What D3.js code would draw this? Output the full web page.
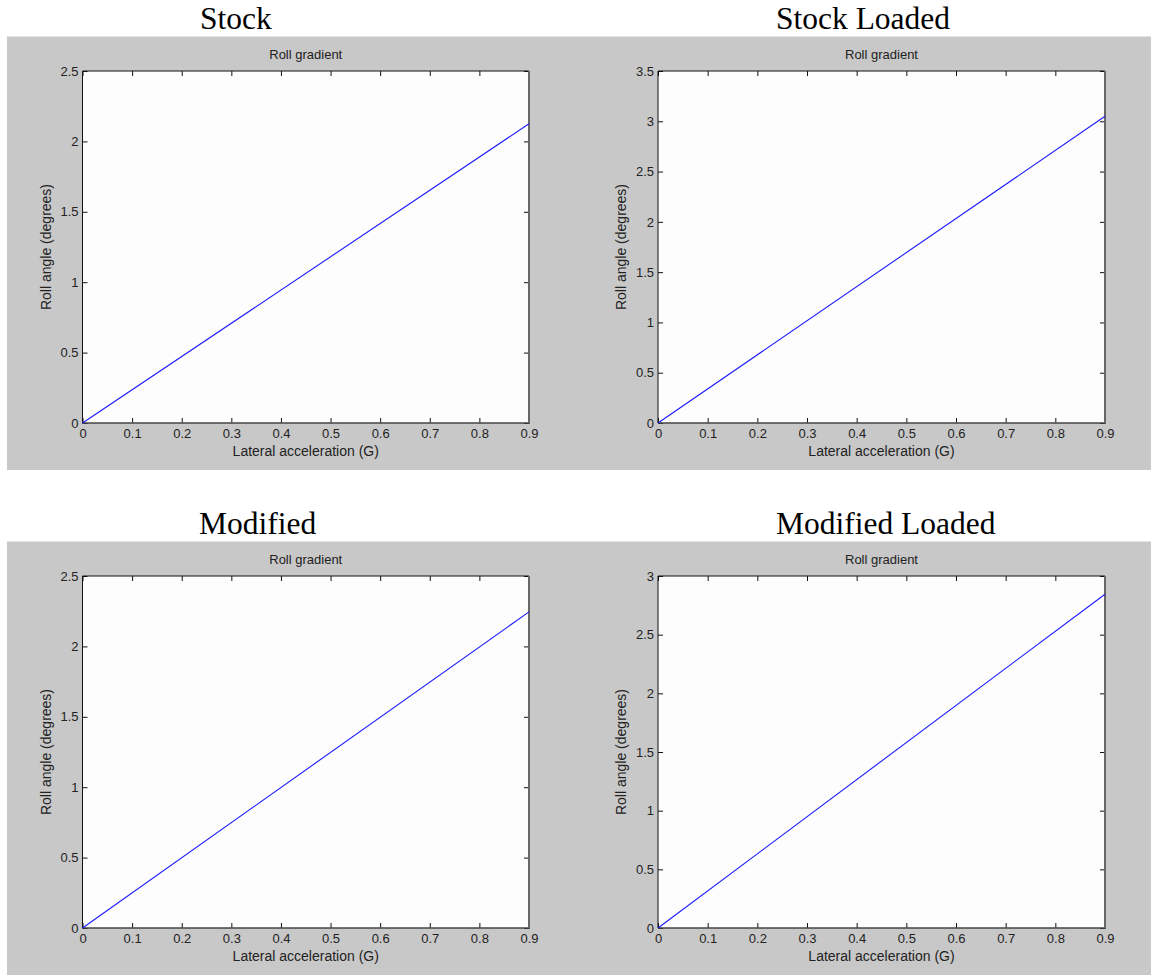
<!DOCTYPE html>
<html>
<head>
<meta charset="utf-8">
<script src="https://cdn.jsdelivr.net/npm/d3@7"></script>
<style>
  html, body { margin: 0; padding: 0; background: #ffffff; }
  svg { display: block; }
</style>
</head>
<body>
<svg id="chart" width="1151" height="975"></svg>
<script>
// Panel captions
const panelTitles = ["Stock", "Stock Loaded", "Modified", "Modified Loaded"];
// Lateral acceleration samples (G)
const lateralG = [0, 0.9];
// Roll angle (degrees) for each configuration
const rollStock = [0, 2.125];
const rollStockLoaded = [0, 3.05];
const rollModified = [0, 2.245];
const rollModifiedLoaded = [0, 2.845];
// Y axis upper limits per panel
const yMax = [2.5, 3.5, 2.5, 3];
const xTicks = [0, 0.1, 0.2, 0.3, 0.4, 0.5, 0.6, 0.7, 0.8, 0.9];

const series = [rollStock, rollStockLoaded, rollModified, rollModifiedLoaded];

const svg = d3.select("#chart");
const figBg = "#c8c8c8";

// grey figure backgrounds (one per row)
[0, 1].forEach(r => {
  svg.append("rect")
    .attr("x", 7).attr("y", 36.5 + r * 505)
    .attr("width", 1151 - 7).attr("height", r === 0 ? 433.5 : 975 - 541.5)
    .attr("fill", figBg);
});

const layout = [
  { x0: 82.5, x1: 529, y0: 71, y1: 423, titleX: 200, titleY: 29 },
  { x0: 658, x1: 1105, y0: 71, y1: 423, titleX: 776, titleY: 29 },
  { x0: 82.5, x1: 529, y0: 576, y1: 928, titleX: 199, titleY: 534 },
  { x0: 658, x1: 1105, y0: 576, y1: 928, titleX: 776, titleY: 534 }
];

const sansFont = "'Liberation Sans', Arial, sans-serif";

layout.forEach((L, i) => {
  const g = svg.append("g");
  const x = d3.scaleLinear().domain([0, 0.9]).range([L.x0, L.x1]);
  const y = d3.scaleLinear().domain([0, yMax[i]]).range([L.y1, L.y0]);
  const yTicks = d3.range(0, yMax[i] + 1e-9, 0.5);

  // caption
  svg.append("text")
    .attr("x", L.titleX).attr("y", L.titleY)
    .attr("font-family", "'Liberation Serif', 'Times New Roman', serif")
    .attr("font-size", 31.5)
    .attr("fill", "#000")
    .text(panelTitles[i]);

  // plot area
  g.append("rect")
    .attr("x", L.x0).attr("y", L.y0)
    .attr("width", L.x1 - L.x0).attr("height", L.y1 - L.y0)
    .attr("fill", "#fdfdfd");

  // axes with inward ticks on all four sides
  const fmt = d => d3.format("~g")(d);
  const bottom = g.append("g").attr("transform", `translate(0,${L.y1})`)
    .call(d3.axisBottom(x).tickValues(xTicks).tickSize(-5).tickPadding(6).tickFormat(fmt));
  const top = g.append("g").attr("transform", `translate(0,${L.y0})`)
    .call(d3.axisTop(x).tickValues(xTicks).tickSize(-5).tickFormat(""));
  const left = g.append("g").attr("transform", `translate(${L.x0},0)`)
    .call(d3.axisLeft(y).tickValues(yTicks).tickSize(-5).tickPadding(4).tickFormat(fmt));
  const right = g.append("g").attr("transform", `translate(${L.x1},0)`)
    .call(d3.axisRight(y).tickValues(yTicks).tickSize(-5).tickFormat(""));

  [bottom, top, left, right].forEach(a => {
    a.select(".domain").remove();
    a.selectAll(".tick line").attr("stroke", "#111").attr("stroke-width", 1);
    a.selectAll(".tick text")
      .attr("font-family", sansFont).attr("font-size", 13).attr("fill", "#222");
  });

  // frame: dark top/left edges, grey heavier bottom/right edges
  g.append("line").attr("x1", L.x0).attr("x2", L.x1).attr("y1", L.y0).attr("y2", L.y0)
    .attr("stroke", "#111").attr("stroke-width", 1);
  g.append("line").attr("x1", L.x0).attr("x2", L.x0).attr("y1", L.y0).attr("y2", L.y1)
    .attr("stroke", "#111").attr("stroke-width", 1);
  g.append("line").attr("x1", L.x0).attr("x2", L.x1 + 1).attr("y1", L.y1).attr("y2", L.y1)
    .attr("stroke", "#444").attr("stroke-width", 1.5);
  g.append("line").attr("x1", L.x1).attr("x2", L.x1).attr("y1", L.y0).attr("y2", L.y1)
    .attr("stroke", "#666").attr("stroke-width", 2);

  // data line
  const pts = lateralG.map((v, k) => [v, series[i][k]]);
  g.append("path")
    .datum(pts)
    .attr("fill", "none")
    .attr("stroke", "#1a1aff")
    .attr("stroke-width", 1.1)
    .attr("d", d3.line().x(d => x(d[0])).y(d => y(d[1])));

  // axes titles
  const cx = (L.x0 + L.x1) / 2;
  const cy = (L.y0 + L.y1) / 2;
  g.append("text")
    .attr("x", cx).attr("y", L.y0 - 12)
    .attr("text-anchor", "middle")
    .attr("font-family", sansFont).attr("font-size", 13).attr("fill", "#222")
    .text("Roll gradient");
  g.append("text")
    .attr("x", cx).attr("y", L.y1 + 33)
    .attr("text-anchor", "middle")
    .attr("font-family", sansFont).attr("font-size", 14).attr("fill", "#222")
    .text("Lateral acceleration (G)");
  g.append("text")
    .attr("transform", `translate(${L.x0 - 32},${cy}) rotate(-90)`)
    .attr("text-anchor", "middle")
    .attr("font-family", sansFont).attr("font-size", 14).attr("fill", "#222")
    .text("Roll angle (degrees)");
});
</script>
</body>
</html>
